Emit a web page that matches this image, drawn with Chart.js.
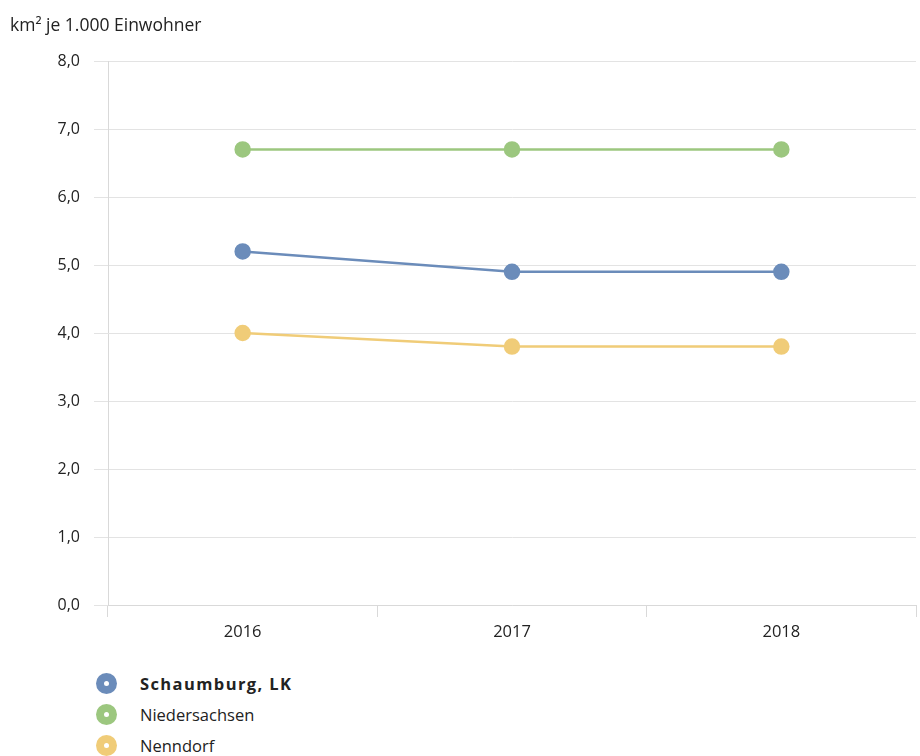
<!DOCTYPE html>
<html>
<head>
<meta charset="utf-8">
<script src="https://cdn.jsdelivr.net/npm/chart.js@4"></script>
<style>
  body { margin: 0; background: #fff; font-family: "Open Sans", "Noto Sans", sans-serif; }
  #wrap { position: relative; width: 920px; height: 756px; }
  #chart { position: absolute; left: 0; top: 0; }
  #title { position: absolute; left: 10px; top: 12px; font-size: 17.5px; color: #222; }
  #legend { position: absolute; left: 96px; top: 668px; }
  .item { display: flex; align-items: center; height: 31px; font-size: 16.5px; color: #222; }
  .dot { width: 21px; height: 21px; border-radius: 50%; position: relative; margin-right: 23px; }
  .dot::after { content: ""; position: absolute; left: 8px; top: 8px; width: 5px; height: 5px; border-radius: 50%; background: #fff; }
  .bold { font-weight: bold; letter-spacing: 1.4px; }
</style>
</head>
<body>
<div id="wrap">
  <canvas id="chart" width="920" height="655"></canvas>
  <div id="title">km² je 1.000 Einwohner</div>
  <div id="legend"></div>
</div>
<script>
var years = ['2016', '2017', '2018'];
var schaumburg = [5.2, 4.9, 4.9];
var niedersachsen = [6.7, 6.7, 6.7];
var nenndorf = [4.0, 3.8, 3.8];
var yTicks = [0, 1, 2, 3, 4, 5, 6, 7, 8];

var blue = '#6b8cba';
var green = '#9cc77f';
var yellow = '#f0cc78';
var font = '"Open Sans", "Noto Sans", sans-serif';

function series(label, data, color) {
    return {
        label: label,
        data: data,
        borderColor: color,
        backgroundColor: color,
        pointBackgroundColor: color,
        pointBorderColor: color,
        borderWidth: 2.5,
        pointRadius: 7,
        pointHoverRadius: 7,
        tension: 0
    };
}

var ctx = document.getElementById('chart').getContext('2d');
var chart = new Chart(ctx, {
    type: 'line',
    data: {
        labels: years,
        datasets: [
            series('Schaumburg, LK', schaumburg, blue),
            series('Niedersachsen', niedersachsen, green),
            series('Nenndorf', nenndorf, yellow)
        ]
    },
    options: {
        responsive: false,
        animation: false,
        layout: { autoPadding: false, padding: { left: 0, right: 4, top: 61, bottom: 0 } },
        plugins: {
            legend: { display: false },
            tooltip: { enabled: false }
        },
        scales: {
            x: {
                offset: true,
                grid: { offset: true, drawOnChartArea: false, drawTicks: true, tickLength: 12, color: '#d9d9d9' },
                border: { display: true, color: '#d9d9d9' },
                ticks: { color: '#222', padding: 5, font: { family: font, size: 16.5 } },
                afterFit: function (scale) {
                    scale.height = 50;
                    scale.paddingLeft = 0;
                    scale.paddingRight = 0;
                }
            },
            y: {
                min: 0,
                max: 8,
                afterBuildTicks: function (scale) {
                    scale.ticks = yTicks.map(function (v) { return { value: v }; });
                },
                grid: { color: '#e3e3e3', tickLength: 14 },
                border: { display: true, color: '#d9d9d9' },
                ticks: {
                    color: '#222',
                    padding: 14,
                    font: { family: font, size: 16 },
                    callback: function (v) { return v.toFixed(1).replace('.', ','); }
                },
                afterFit: function (scale) {
                    scale.width = 108;
                    scale.paddingTop = 0;
                    scale.paddingBottom = 0;
                }
            }
        }
    }
});

var legend = document.getElementById('legend');
chart.data.datasets.forEach(function (ds, i) {
    var row = document.createElement('div');
    row.className = 'item';
    var dot = document.createElement('span');
    dot.className = 'dot';
    dot.style.background = ds.borderColor;
    var txt = document.createElement('span');
    txt.textContent = ds.label;
    if (i === 0) txt.className = 'bold';
    row.appendChild(dot);
    row.appendChild(txt);
    legend.appendChild(row);
});
</script>
</body>
</html>
